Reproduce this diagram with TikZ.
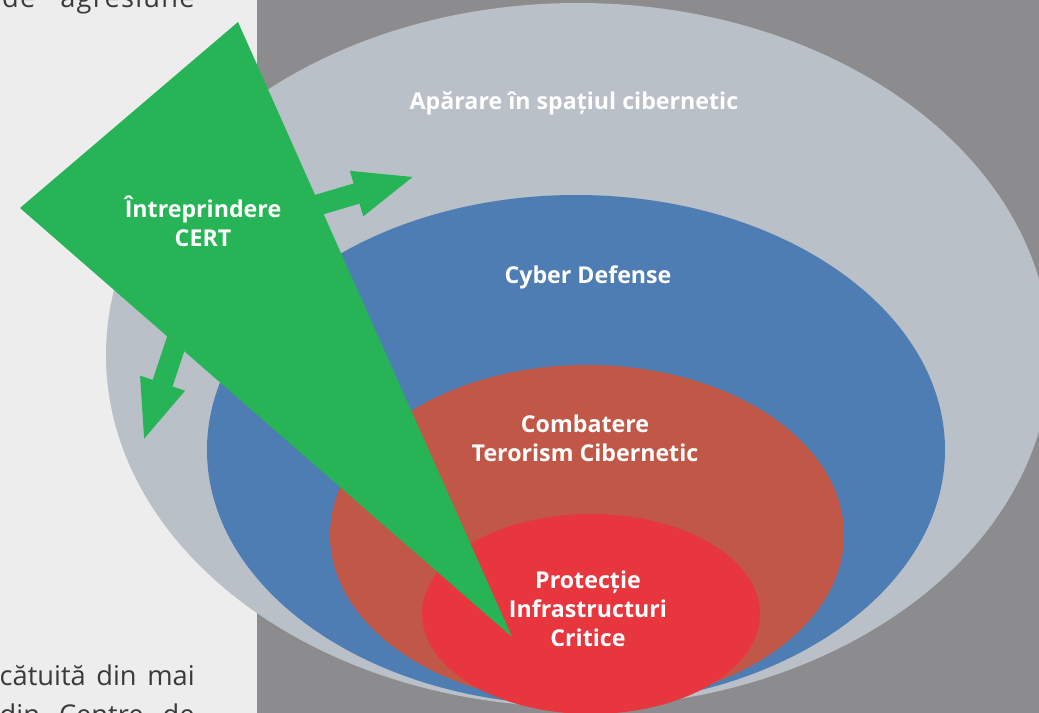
\documentclass[tikz,border=0pt]{standalone}
\usepackage[svgnames]{xcolor}
\usepackage{fontspec}
\setsansfont{Open Sans}
\usetikzlibrary{arrows.meta}
\definecolor{PageGray}{HTML}{EDEDED}
\definecolor{PanelGray}{HTML}{8C8C8E}
\definecolor{OuterGray}{HTML}{B9C0C7}
\definecolor{DefBlue}{HTML}{4E7DB4}
\definecolor{CombBrown}{HTML}{C15847}
\definecolor{ProtRed}{HTML}{E8363E}
\definecolor{CertGreen}{HTML}{27B456}
\definecolor{TextGray}{HTML}{3A3A3A}

\begin{document}
\begin{tikzpicture}[x=0.02cm, y=-0.02cm,
    ring/.style={white, font=\sffamily\bfseries\fontsize{13.2}{16.4}\selectfont, align=center, inner sep=0},
    side/.style={TextGray, font=\sffamily\fontsize{15.5}{18}\selectfont, inner sep=0, anchor=base east},
    pointer/.style={CertGreen, line width=0.42cm, -{Triangle[length=1.24cm, width=0.84cm]}}]
    \useasboundingbox (0,0) rectangle (1039,713);
    \clip (0,0) rectangle (1039,713);
    \fill[PageGray] (0,0) rectangle (257,713);
    \fill[PanelGray] (257,0) rectangle (1039,713);
    % nested rings, outermost first
    \fill[OuterGray] (578,355) ellipse [x radius=472, y radius=352];
    \fill[DefBlue] (576,450) ellipse [x radius=369, y radius=255];
    \fill[CombBrown] (587,535) ellipse [x radius=257, y radius=170];
    \fill[ProtRed] (591,614) ellipse [x radius=169, y radius=100];
    % green pointer and its two arrows
    \coordinate (T1) at (238,22);
    \coordinate (T2) at (20,208);
    \coordinate (T3) at (512,637);
    \coordinate (A1) at (301,210);
    \coordinate (B1) at (416,176);
    \coordinate (A2) at (181,328);
    \coordinate (B2) at (143,442);
    \draw[pointer] (A1) -- (B1);
    \draw[pointer] (A2) -- (B2);
    \fill[CertGreen] (T1) \foreach \P in {T2,T3} {-- (\P)} -- cycle;
    % labels
    \node[ring, anchor=base] (aparare) at (574,110) {Apărare în spațiul cibernetic};
    \node[ring, anchor=base] (cyber) at (588,283) {Cyber Defense};
    \node[ring] (combatere) at (585,438) {Combatere\\Terorism Cibernetic};
    \node[ring] (protectie) at (588,609) {Protecție\\Infrastructuri\\Critice};
    \node[ring] (cert) at (203,221) {Întreprindere\\CERT};
    % cut-off page text
    \node[side] (sus) at (195,8) {\addfontfeature{LetterSpace=4.5}de\hspace{0.5cm}agresiune};
    \node[side] (jos1) at (195,685) {\makebox[3.9cm][s]{cătuită din mai}};
    \node[side] (jos2) at (195,724) {\makebox[3.9cm][s]{din Centre de}};
\end{tikzpicture}
\end{document}
